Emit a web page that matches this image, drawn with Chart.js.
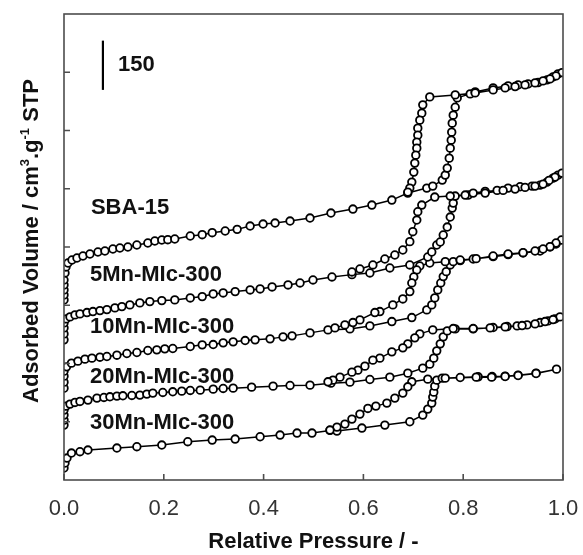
<!DOCTYPE html>
<html>
<head>
<meta charset="utf-8">
<script src="https://cdn.jsdelivr.net/npm/chart.js@4/dist/chart.umd.min.js"></script>
<style>
  html, body { margin: 0; padding: 0; background: #fff; }
  #wrap { width: 583px; height: 555px; }
</style>
</head>
<body>
<div id="wrap"><canvas id="myChart" width="583" height="555"></canvas></div>
<script>
// relative pressure / adsorbed volume (offset curves), adsorption then desorption
const sbaX = [0, 0, 0, 0, 0, 0.002, 0.004, 0.008, 0.016, 0.026, 0.038, 0.052, 0.068, 0.082, 0.098, 0.112, 0.128, 0.146, 0.168, 0.182, 0.196, 0.208, 0.222, 0.253, 0.277, 0.297, 0.323, 0.347, 0.373, 0.399, 0.423, 0.453, 0.493, 0.535, 0.579, 0.617, 0.657, 0.689, 0.727, 0.739, 0.758, 0.764, 0.768, 0.772, 0.774, 0.776, 0.777, 0.778, 0.780, 0.784, 0.788, 0.814, 0.824, 0.860, 0.890, 0.910, 0.930, 0.950, 0.968, 0.980, 0.990, 0.998,
  0.986, 0.974, 0.960, 0.944, 0.924, 0.904, 0.884, 0.860, 0.824, 0.784, 0.733, 0.719, 0.717, 0.713, 0.709, 0.709, 0.707, 0.707, 0.705, 0.703, 0.701, 0.697, 0.693, 0.689];
const sbaY = [541, 556, 571, 586, 601, 622, 640, 652, 661, 667, 673, 679, 685, 688, 694, 697, 700, 706, 712, 718, 721, 722, 724, 733, 737, 743, 748, 753, 763, 769, 772, 778, 787, 802, 814, 826, 841, 862, 877, 883, 901, 916, 937, 967, 997, 1021, 1045, 1072, 1096, 1120, 1148, 1160, 1166, 1178, 1184, 1187, 1190, 1194, 1202, 1211, 1220, 1224,
  1214, 1205, 1199, 1193, 1187, 1182, 1178, 1172, 1163, 1157, 1151, 1127, 1102, 1081, 1057, 1036, 1015, 997, 976, 952, 925, 895, 877, 865];

const mn5X = [0, 0, 0, 0, 0.004, 0.012, 0.022, 0.032, 0.046, 0.058, 0.072, 0.086, 0.102, 0.116, 0.132, 0.152, 0.172, 0.196, 0.222, 0.253, 0.277, 0.299, 0.319, 0.343, 0.373, 0.393, 0.417, 0.449, 0.473, 0.499, 0.537, 0.577, 0.613, 0.653, 0.693, 0.729, 0.737, 0.747, 0.754, 0.760, 0.768, 0.774, 0.778, 0.780, 0.784, 0.810, 0.820, 0.844, 0.868, 0.890, 0.914, 0.938, 0.954, 0.968, 0.980, 0.990, 0.998,
  0.984, 0.972, 0.960, 0.944, 0.924, 0.904, 0.880, 0.844, 0.804, 0.774, 0.743, 0.717, 0.709, 0.707, 0.699, 0.693, 0.679, 0.663, 0.643, 0.619, 0.593, 0.577];
const mn5Y = [421, 439, 457, 472, 484, 490, 496, 499, 503, 506, 509, 512, 517, 521, 526, 532, 536, 539, 541, 547, 551, 559, 562, 566, 571, 574, 580, 586, 592, 601, 610, 617, 622, 637, 646, 670, 685, 706, 715, 736, 760, 790, 817, 832, 853, 856, 862, 867, 870, 877, 881, 883, 886, 895, 907, 916, 922,
  910, 900, 889, 883, 879, 874, 870, 862, 856, 853, 850, 826, 806, 781, 746, 716, 691, 676, 664, 646, 634, 625];

const mn10X = [0, 0, 0, 0, 0.005, 0.015, 0.028, 0.042, 0.056, 0.072, 0.086, 0.106, 0.126, 0.146, 0.168, 0.186, 0.202, 0.218, 0.253, 0.277, 0.299, 0.319, 0.339, 0.363, 0.383, 0.413, 0.439, 0.457, 0.493, 0.529, 0.573, 0.613, 0.657, 0.697, 0.727, 0.737, 0.743, 0.749, 0.755, 0.760, 0.766, 0.774, 0.780, 0.794, 0.820, 0.860, 0.890, 0.920, 0.954, 0.974, 0.986, 0.997,
  0.986, 0.974, 0.960, 0.944, 0.920, 0.890, 0.860, 0.826, 0.794, 0.764, 0.733, 0.713, 0.707, 0.701, 0.697, 0.693, 0.679, 0.659, 0.633, 0.623, 0.593, 0.579, 0.563, 0.543];
const mn10Y = [276, 294, 312, 327, 340, 351, 357, 363, 366, 369, 371, 375, 380, 383, 389, 391, 394, 395, 401, 406, 407, 412, 415, 419, 421, 424, 430, 433, 442, 451, 454, 463, 476, 488, 511, 526, 547, 571, 592, 611, 626, 646, 656, 659, 664, 671, 677, 682, 688, 700, 709, 721,
  712, 701, 694, 688, 683, 679, 673, 665, 661, 656, 652, 643, 631, 610, 592, 566, 544, 526, 506, 503, 481, 473, 466, 457];

const mn20X = [0, 0, 0, 0, 0.004, 0.012, 0.022, 0.032, 0.048, 0.066, 0.080, 0.092, 0.106, 0.118, 0.136, 0.152, 0.166, 0.178, 0.198, 0.218, 0.236, 0.253, 0.273, 0.299, 0.319, 0.339, 0.376, 0.419, 0.453, 0.493, 0.535, 0.573, 0.613, 0.653, 0.689, 0.719, 0.733, 0.741, 0.747, 0.754, 0.760, 0.768, 0.784, 0.820, 0.860, 0.888, 0.908, 0.928, 0.954, 0.970, 0.984, 0.994,
  0.980, 0.964, 0.944, 0.918, 0.884, 0.854, 0.820, 0.780, 0.739, 0.713, 0.703, 0.689, 0.679, 0.657, 0.633, 0.619, 0.603, 0.589, 0.577, 0.553, 0.539, 0.529];
const mn20Y = [165, 180, 195, 210, 222, 228, 233, 236, 240, 246, 248, 250, 252, 253, 254, 255, 258, 261, 263, 265, 267, 269, 270, 273, 275, 276, 279, 282, 284, 285, 291, 294, 302, 309, 321, 336, 348, 366, 388, 409, 430, 448, 454, 454, 458, 461, 463, 466, 473, 478, 484, 490,
  482, 476, 469, 464, 460, 457, 455, 455, 451, 439, 427, 409, 397, 385, 366, 360, 342, 330, 324, 309, 300, 295];

const mn30X = [0, 0.002, 0.006, 0.015, 0.032, 0.048, 0.106, 0.146, 0.196, 0.248, 0.297, 0.343, 0.393, 0.433, 0.467, 0.497, 0.533, 0.547, 0.597, 0.643, 0.693, 0.719, 0.729, 0.737, 0.739, 0.741, 0.743, 0.747, 0.758, 0.794, 0.830, 0.858, 0.884, 0.910, 0.946, 0.987,
  0.946, 0.910, 0.884, 0.857, 0.826, 0.764, 0.729, 0.697, 0.689, 0.679, 0.663, 0.647, 0.625, 0.609, 0.593, 0.577, 0.563, 0.547, 0.533];
const mn30Y = [36, 51, 66, 81, 85, 90, 96, 100, 105, 115, 120, 123, 130, 135, 141, 141, 149, 147, 156, 165, 175, 195, 213, 231, 249, 264, 282, 300, 306, 308, 310, 311, 312, 315, 321, 333,
  320, 314, 311, 309, 309, 306, 303, 295, 280, 261, 246, 231, 222, 215, 198, 183, 168, 159, 150];

const sampleNames = ['SBA-15', '5Mn-MIc-300', '10Mn-MIc-300', '20Mn-MIc-300', '30Mn-MIc-300'];
const labelX = [0.054, 0.052, 0.052, 0.052, 0.052];
const labelY = [817, 616, 460, 310, 170];

const xTicks = [0, 0.2, 0.4, 0.6, 0.8, 1.0];
const yTickStep = 175;
const barX = [0.078, 0.078];
const barY = [1172, 1320];
const barText = '150';

function pts(xs, ys) {
  return xs.map(function (x, i) { return { x: x, y: ys[i] }; });
}

function curve(xs, ys) {
  return {
    data: pts(xs, ys),
    showLine: true,
    borderColor: '#000',
    borderWidth: 1.5,
    pointRadius: 3.8,
    pointBorderWidth: 1.8,
    pointBorderColor: '#000',
    pointBackgroundColor: '#fff',
    tension: 0
  };
}

// frame, inward ticks, texts, y title
const extras = {
  id: 'extras',
  afterDraw: function (chart) {
    const c = chart.ctx;
    const a = chart.chartArea;
    const xs = chart.scales.x;
    const ys = chart.scales.y;
    c.save();
    c.strokeStyle = '#4d4d4d';
    c.lineWidth = 1.6;
    c.strokeRect(a.left, a.top, a.right - a.left, a.bottom - a.top);
    c.beginPath();
    xTicks.forEach(function (t) {
      const px = xs.getPixelForValue(t);
      c.moveTo(px, a.bottom);
      c.lineTo(px, a.bottom - 6);
    });
    for (let v = yTickStep; v < ys.max; v += yTickStep) {
      const py = ys.getPixelForValue(v);
      c.moveTo(a.left, py);
      c.lineTo(a.left + 6, py);
    }
    c.stroke();

    c.fillStyle = '#111';
    c.font = 'bold 22px "Liberation Sans", Arial, sans-serif';
    c.textBaseline = 'middle';
    c.textAlign = 'left';
    sampleNames.forEach(function (n, i) {
      c.fillText(n, xs.getPixelForValue(labelX[i]), ys.getPixelForValue(labelY[i]));
    });
    c.fillText(barText, xs.getPixelForValue(barX[0]) + 15, ys.getPixelForValue((barY[0] + barY[1]) / 2));

    // y axis title with superscripts
    c.translate(37.5, 241);
    c.rotate(-Math.PI / 2);
    c.textBaseline = 'alphabetic';
    const big = 'bold 22px "Liberation Sans", Arial, sans-serif';
    const small = 'bold 13px "Liberation Sans", Arial, sans-serif';
    const parts = [
      ['Adsorbed Volume / cm', big, 0],
      ['3', small, -9],
      ['.g', big, 0],
      ['-1', small, -9],
      [' STP', big, 0]
    ];
    let total = 0;
    parts.forEach(function (p) { c.font = p[1]; total += c.measureText(p[0]).width; });
    let u = -total / 2;
    parts.forEach(function (p) {
      c.font = p[1];
      c.fillText(p[0], u, p[2]);
      u += c.measureText(p[0]).width;
    });
    c.restore();
  }
};

const ctx = document.getElementById('myChart').getContext('2d');
const chart = new Chart(ctx, {
  type: 'scatter',
  data: {
    datasets: [
      curve(sbaX, sbaY),
      curve(mn5X, mn5Y),
      curve(mn10X, mn10Y),
      curve(mn20X, mn20Y),
      curve(mn30X, mn30Y),
      {
        data: pts(barX, barY),
        showLine: true,
        borderColor: '#000',
        borderWidth: 2.2,
        pointRadius: 0
      }
    ]
  },
  options: {
    responsive: false,
    animation: false,
    layout: { padding: { left: 0, top: 14, right: 20, bottom: 0 } },
    plugins: {
      legend: { display: false },
      tooltip: { enabled: false }
    },
    scales: {
      x: {
        type: 'linear',
        min: 0,
        max: 1,
        afterBuildTicks: function (s) { s.ticks = xTicks.map(function (v) { return { value: v }; }); },
        afterFit: function (s) { s.height = 75; s.paddingLeft = 0; s.paddingRight = 0; },
        grid: { display: false, drawTicks: false },
        border: { display: false },
        ticks: {
          padding: 16,
          color: '#333',
          font: { family: '"Liberation Sans", Arial, sans-serif', size: 22 },
          callback: function (v) { return v.toFixed(1); }
        },
        title: {
          display: true,
          text: 'Relative Pressure / -',
          color: '#111',
          padding: { top: 0, bottom: 0 },
          font: { family: '"Liberation Sans", Arial, sans-serif', size: 22, weight: 'bold' }
        }
      },
      y: {
        type: 'linear',
        min: 0,
        max: 1400,
        afterFit: function (s) { s.width = 64; },
        grid: { display: false, drawTicks: false },
        border: { display: false },
        ticks: { display: false, stepSize: yTickStep }
      }
    }
  },
  plugins: [extras]
});
</script>
</body>
</html>
